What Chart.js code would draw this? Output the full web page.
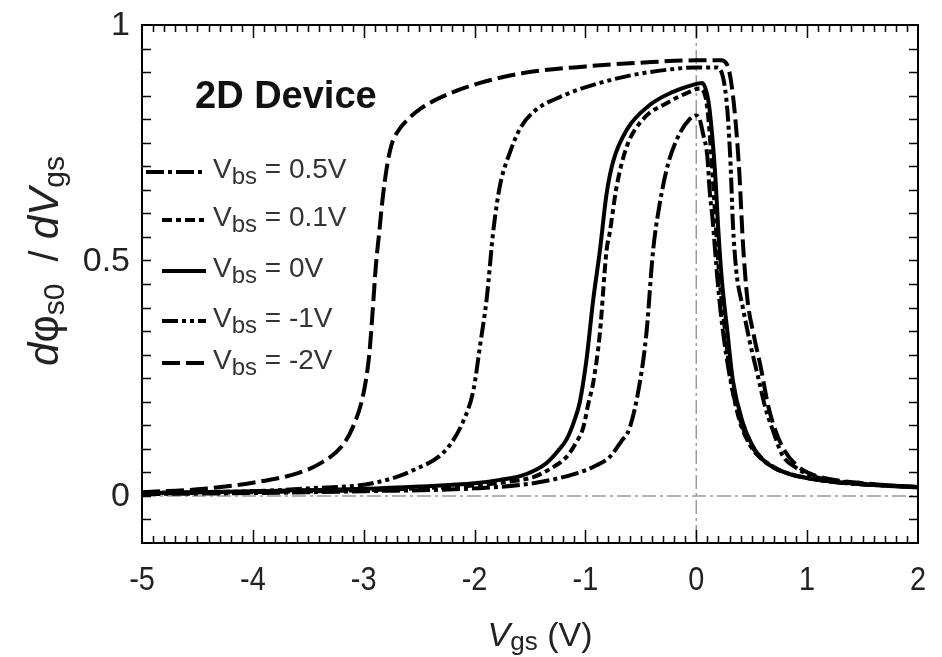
<!DOCTYPE html>
<html>
<head>
<meta charset="utf-8">
<script src="https://cdn.jsdelivr.net/npm/chart.js@4.4.0/dist/chart.umd.min.js"></script>
<style>
  html, body { margin: 0; padding: 0; background: #fff; }
  #wrap { width: 942px; height: 657px; }
</style>
</head>
<body>
<div id="wrap"><canvas id="dphiChart" width="942" height="657"></canvas></div>
<script>
// dφs0/dVgs vs Vgs for several body biases (2D device)

// Vbs = 0.5V
const vgsBs05 = [-5, -4, -3, -2, -1.47, -1.08, -0.9, -0.78, -0.68, -0.6, -0.51, -0.45, -0.39, -0.33, -0.26, -0.17, -0.06, 0, 0.03, 0.06, 0.1, 0.12, 0.15, 0.18, 0.22, 0.27, 0.33, 0.42, 0.5, 0.6, 0.75, 1.0, 1.3, 1.6, 2.0];
const dphiBs05 = [0.004, 0.006, 0.01, 0.016, 0.027, 0.048, 0.065, 0.083, 0.115, 0.145, 0.24, 0.345, 0.52, 0.62, 0.70, 0.76, 0.80, 0.808, 0.80, 0.77, 0.72, 0.65, 0.58, 0.49, 0.39, 0.30, 0.22, 0.145, 0.105, 0.078, 0.055, 0.038, 0.028, 0.023, 0.018];

// Vbs = 0.1V
const vgsBs01 = [-5, -4, -3, -2.5, -2, -1.7, -1.47, -1.3, -1.17, -1.08, -1.02, -0.97, -0.93, -0.87, -0.81, -0.78, -0.72, -0.63, -0.48, -0.26, -0.06, 0.03, 0.08, 0.11, 0.15, 0.18, 0.21, 0.26, 0.31, 0.39, 0.48, 0.56, 0.7, 0.85, 1.0, 1.23, 1.5, 2.0];
const dphiBs01 = [0.005, 0.008, 0.012, 0.016, 0.022, 0.03, 0.04, 0.06, 0.083, 0.115, 0.145, 0.2, 0.24, 0.345, 0.52, 0.56, 0.655, 0.74, 0.80, 0.835, 0.858, 0.865, 0.85, 0.80, 0.67, 0.56, 0.46, 0.35, 0.25, 0.16, 0.11, 0.085, 0.06, 0.046, 0.038, 0.03, 0.025, 0.019];

// Vbs = 0V
const vgsBs0 = [-5, -4, -3, -2.5, -2, -1.77, -1.59, -1.45, -1.35, -1.25, -1.17, -1.1, -1.05, -0.99, -0.93, -0.87, -0.81, -0.75, -0.62, -0.42, -0.21, -0.03, 0.05, 0.09, 0.12, 0.17, 0.2, 0.23, 0.28, 0.33, 0.42, 0.5, 0.575, 0.7, 0.845, 1.0, 1.23, 1.5, 2.0];
const dphiBs0 = [0.006, 0.01, 0.015, 0.02, 0.027, 0.034, 0.042, 0.055, 0.07, 0.095, 0.12, 0.16, 0.20, 0.29, 0.416, 0.52, 0.64, 0.71, 0.78, 0.83, 0.858, 0.873, 0.877, 0.86, 0.82, 0.685, 0.56, 0.46, 0.35, 0.245, 0.155, 0.11, 0.083, 0.06, 0.046, 0.038, 0.03, 0.025, 0.019];

// Vbs = -1V
const vgsBsM1 = [-5, -4, -3.5, -2.92, -2.55, -2.25, -2.1, -2.01, -1.95, -1.89, -1.83, -1.77, -1.68, -1.59, -1.47, -1.17, -0.87, -0.57, -0.26, 0, 0.18, 0.24, 0.28, 0.31, 0.33, 0.36, 0.42, 0.48, 0.56, 0.62, 0.69, 0.78, 0.9, 1.0, 1.2, 1.5, 2.0];
const dphiBsM1 = [0.006, 0.01, 0.016, 0.027, 0.055, 0.10, 0.16, 0.225, 0.32, 0.42, 0.565, 0.66, 0.73, 0.78, 0.815, 0.853, 0.877, 0.894, 0.905, 0.91, 0.91, 0.89, 0.82, 0.70, 0.58, 0.48, 0.40, 0.33, 0.25, 0.19, 0.14, 0.085, 0.06, 0.046, 0.034, 0.026, 0.018];

// Vbs = -2V
const vgsBsM2 = [-5, -4.5, -4, -3.6, -3.4, -3.2, -3.1, -3.0, -2.95, -2.92, -2.89, -2.86, -2.83, -2.79, -2.75, -2.69, -2.6, -2.49, -2.22, -1.95, -1.56, -1.0, -0.5, 0, 0.22, 0.28, 0.32, 0.36, 0.39, 0.42, 0.46, 0.52, 0.58, 0.65, 0.72, 0.8, 0.9, 1.0, 1.2, 1.5, 2.0];
const dphiBsM2 = [0.008, 0.014, 0.028, 0.048, 0.068, 0.105, 0.145, 0.22, 0.30, 0.39, 0.49, 0.56, 0.63, 0.70, 0.745, 0.775, 0.80, 0.822, 0.855, 0.877, 0.898, 0.912, 0.92, 0.925, 0.925, 0.915, 0.87, 0.78, 0.68, 0.54, 0.42, 0.34, 0.275, 0.19, 0.135, 0.095, 0.066, 0.05, 0.036, 0.027, 0.018];

const biasLabels = ["0.5V", "0.1V", "0V", "-1V", "-2V"];
const xTicks = [-5, -4, -3, -2, -1, 0, 1, 2];
const yTicks = [0, 0.5, 1];
const yTickLabels = ["0", "0.5", "1"];

const dashes = [
  [18, 4, 4, 4],
  [10, 4, 5, 4],
  [],
  [16, 4, 4, 4, 4, 4],
  [18, 6]
];
const legendRows = [172, 220, 271, 321, 363];

const toPoints = (xs, ys) => xs.map((x, i) => ({ x: x, y: ys[i] }));

function curve(xs, ys, dash) {
  return {
    data: toPoints(xs, ys),
    borderColor: "#000",
    borderWidth: 4,
    borderDash: dash,
    pointRadius: 0,
    fill: false,
    cubicInterpolationMode: "monotone"
  };
}

const FONT = "'Liberation Sans', Arial, Helvetica, sans-serif";

// write a run of text pieces, each with its own font and baseline shift
function drawRuns(ctx, x, y, runs, align) {
  let total = 0;
  runs.forEach(r => { ctx.font = r.font; total += ctx.measureText(r.t).width; });
  let cx = align === "center" ? x - total / 2 : x;
  runs.forEach(r => {
    ctx.font = r.font;
    ctx.fillText(r.t, cx, y + (r.dy || 0));
    cx += ctx.measureText(r.t).width;
  });
}

const framePlugin = {
  id: "framePlugin",
  beforeDatasetsDraw(chart) {
    const { ctx, chartArea: a, scales } = chart;
    const x0 = scales.x.getPixelForValue(0);
    const y0 = scales.y.getPixelForValue(0);
    ctx.save();
    ctx.strokeStyle = "#9a9a9a";
    ctx.lineWidth = 1.5;
    ctx.setLineDash([14, 4, 3, 4]);
    ctx.beginPath();
    ctx.moveTo(a.left, y0); ctx.lineTo(a.right, y0);
    ctx.moveTo(x0, a.top); ctx.lineTo(x0, a.bottom);
    ctx.stroke();
    ctx.restore();
  },
  afterDatasetsDraw(chart) {
    const { ctx, chartArea: a, scales } = chart;
    const xs = scales.x, ys = scales.y;
    ctx.save();
    ctx.setLineDash([]);

    // inward ticks on all four sides
    ctx.strokeStyle = "#000";
    ctx.lineWidth = 1.5;
    ctx.beginPath();
    for (let i = -49; i < 20; i++) {
      const px = Math.round(xs.getPixelForValue(i / 10)) + 0.5;
      const len = i % 10 === 0 ? 13 : 7;
      ctx.moveTo(px, a.bottom); ctx.lineTo(px, a.bottom - len);
      ctx.moveTo(px, a.top); ctx.lineTo(px, a.top + len);
    }
    for (let j = -1; j < 20; j++) {
      const py = Math.round(ys.getPixelForValue(j * 0.05)) + 0.5;
      ctx.moveTo(a.left, py); ctx.lineTo(a.left + 9, py);
      ctx.moveTo(a.right, py); ctx.lineTo(a.right - 9, py);
    }
    ctx.stroke();

    // frame
    ctx.lineWidth = 2;
    ctx.strokeRect(a.left, a.top, a.right - a.left, a.bottom - a.top);

    // tick labels
    ctx.fillStyle = "#222";
    ctx.font = "34px " + FONT;
    ctx.textBaseline = "middle";
    ctx.textAlign = "right";
    yTicks.forEach((v, i) => {
      ctx.fillText(yTickLabels[i], a.left - 12, ys.getPixelForValue(v) + 1);
    });
    ctx.textAlign = "center";
    xTicks.forEach(v => {
      const px = xs.getPixelForValue(v);
      ctx.save();
      ctx.translate(px, a.bottom + 38);
      ctx.scale(0.85, 1);
      ctx.fillText(String(v), 0, 0);
      ctx.restore();
    });

    // axis titles
    ctx.textAlign = "left";
    ctx.textBaseline = "alphabetic";
    drawRuns(ctx, 540, 646, [
      { t: "V", font: "italic 34px " + FONT },
      { t: "gs", font: "26px " + FONT, dy: 4 },
      { t: " (V)", font: "34px " + FONT }
    ], "center");

    ctx.save();
    ctx.translate(58, 261);
    ctx.rotate(-Math.PI / 2);
    drawRuns(ctx, 0, 0, [
      { t: "d", font: "italic 42px " + FONT },
      { t: "\u03c6", font: "42px " + FONT },
      { t: "s0", font: "30px " + FONT, dy: 6 },
      { t: "  / ", font: "40px " + FONT },
      { t: "dV", font: "italic 42px " + FONT },
      { t: "gs", font: "30px " + FONT, dy: 6 }
    ], "center");
    ctx.restore();

    // device tag
    ctx.fillStyle = "#111";
    ctx.font = "bold 38px " + FONT;
    ctx.fillText("2D Device", 195, 108);

    // legend
    biasLabels.forEach((lab, i) => {
      const y = legendRows[i];
      ctx.strokeStyle = "#000";
      ctx.lineWidth = 4;
      ctx.setLineDash(dashes[i]);
      ctx.beginPath();
      ctx.moveTo(i === 0 ? 146 : 162, y);
      ctx.lineTo(206, y);
      ctx.stroke();
      ctx.setLineDash([]);
      ctx.fillStyle = "#333";
      drawRuns(ctx, 213, y + 6, [
        { t: "V", font: "28px " + FONT },
        { t: "bs", font: "24px " + FONT, dy: 6 },
        { t: " = " + lab, font: "28px " + FONT }
      ], "left");
    });
    ctx.restore();
  }
};

new Chart(document.getElementById("dphiChart"), {
  type: "line",
  data: {
    datasets: [
      curve(vgsBs05, dphiBs05, dashes[0]),
      curve(vgsBs01, dphiBs01, dashes[1]),
      curve(vgsBs0, dphiBs0, dashes[2]),
      curve(vgsBsM1, dphiBsM1, dashes[3]),
      curve(vgsBsM2, dphiBsM2, dashes[4])
    ]
  },
  options: {
    responsive: false,
    animation: false,
    devicePixelRatio: 1,
    layout: { padding: { left: 142, top: 25, right: 24, bottom: 114 } },
    plugins: { legend: { display: false }, tooltip: { enabled: false } },
    scales: {
      x: { type: "linear", min: -5, max: 2, display: false },
      y: { type: "linear", min: -0.1, max: 1, display: false }
    }
  },
  plugins: [framePlugin]
});
</script>
</body>
</html>
